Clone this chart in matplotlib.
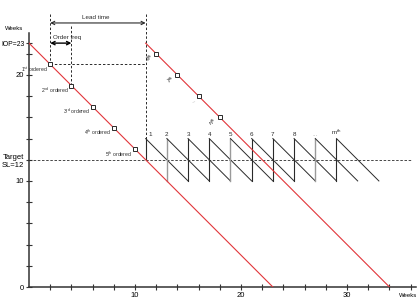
import matplotlib
matplotlib.use("Agg")
import matplotlib.pyplot as plt

# ── data ──────────────────────────────────────────────────────────────────
IOP = 23
TARGET_SL = 12
stock1_x = [0, 23]
stock1_y = [23, 0]
stock2_x = [11, 34]
stock2_y = [23, 0]

order_x = [2, 4, 6, 8, 10]
order_y = [21, 19, 17, 15, 13]
order_labels = [r"1$^{st}$ ordered", r"2$^{nd}$ ordered", r"3$^{rd}$ ordered",
                r"4$^{th}$ ordered", r"5$^{th}$ ordered"]

late_x = [12, 14, 16, 18]
late_y = [22, 20, 18, 16]
late_labels = [r"6$^{th}$", r"7$^{th}$", "...", r"n$^{th}$"]

arrive_x = [11, 13, 15, 17, 19, 21, 23, 25, 27, 29]
arrive_labels = ["1", "2", "3", "4", "5", "6", "7", "8", "...", r"m$^{th}$"]
arrive_grey = [False, True, False, False, True, False, False, False, True, False]
saw_top = 14
saw_low = 10
saw_len = 4

order_start = 2
order_freq_end = 4
lead_end = 11

plt.rcParams["font.family"] = ["Liberation Sans", "DejaVu Sans"]
plt.rcParams["mathtext.fontset"] = "custom"
plt.rcParams["mathtext.rm"] = "Liberation Sans"
plt.rcParams["mathtext.it"] = "Liberation Sans"

RED = "#e2353a"
DARK = "#2a2a2a"
GREY = "#9a9a9a"

fig = plt.figure(figsize=(4.18, 3.03), dpi=100)
ax = fig.add_axes([29 / 418, 16 / 303, 387 / 418, 281 / 303])
ax.set_xlim(0, 36.5)
ax.set_ylim(0, 26.5)

# red stock lines
ax.plot(stock1_x, stock1_y, color=RED, lw=0.8, zorder=3)
ax.plot(stock2_x, stock2_y, color=RED, lw=0.8, zorder=3)

# target line
ax.plot([0, 36], [TARGET_SL, TARGET_SL], color=DARK, lw=0.6, ls=(0, (3, 2)), zorder=2)

# sawtooth deliveries
for i, (x, lab, grey) in enumerate(zip(arrive_x, arrive_labels, arrive_grey)):
    bottom = TARGET_SL if i == 0 else saw_low
    ax.plot([x, x], [bottom, saw_top], color=GREY if grey else DARK,
            lw=1.0 if grey else 0.8, zorder=2)
    ax.plot([x, x + saw_len], [saw_top, saw_top - saw_len], color=DARK, lw=0.7, zorder=2)
    dx = 0.25 if i == 0 else 0.0
    ax.text(x + dx, saw_top + 0.15, lab, fontsize=4.5, ha="center" if i else "left",
            va="bottom", color=GREY if lab == "..." else DARK)

# order markers
ax.plot(order_x, order_y, ls="none", marker="s", ms=2.4, mfc="white",
        mec=DARK, mew=0.7, zorder=4)
for x, y, lab in zip(order_x, order_y, order_labels):
    ax.text(x - 0.25, y - 0.45, lab, fontsize=3.7, ha="right", va="center", color=DARK)

ax.plot(late_x, late_y, ls="none", marker="s", ms=2.4, mfc="white",
        mec=DARK, mew=0.7, zorder=4)
for x, y, lab in zip(late_x, late_y, late_labels):
    ax.text(x - 0.15, y - 0.45, lab, fontsize=3.8, ha="right", va="center",
            rotation=25, color=GREY if lab == "..." else "black")

# dashed guides
dash = dict(color=DARK, lw=0.7, ls=(0, (2.5, 2)), zorder=2)
ax.plot([order_start, order_start], [25.75, order_y[0]], **dash)
ax.plot([order_freq_end, order_freq_end], [24.6, order_y[1]], **dash)
ax.plot([lead_end, lead_end], [25.75, saw_top], **dash)
ax.plot([order_start, lead_end], [order_y[0], order_y[0]], **dash)

# arrows
ax.annotate("", xy=(order_start, 24.9), xytext=(lead_end, 24.9),
            arrowprops=dict(arrowstyle="<->", lw=0.8, color=DARK,
                            shrinkA=0, shrinkB=0, mutation_scale=6))
ax.text((order_start + lead_end) / 2 - 0.2, 25.2, "Lead time", fontsize=4.5,
        ha="center", va="bottom", color=DARK)
ax.annotate("", xy=(order_start, IOP), xytext=(order_freq_end, IOP),
            arrowprops=dict(arrowstyle="<->", lw=1.0, color="black",
                            shrinkA=0, shrinkB=0, mutation_scale=6))
ax.text(order_start + 0.3, 23.55, "Order freq", fontsize=4.5, ha="left",
        va="center", color=DARK)

# axes styling
for s in ["top", "right"]:
    ax.spines[s].set_visible(False)
ax.spines["left"].set_bounds(0, 24)
ax.spines["bottom"].set_bounds(0, 36.5)
for s in ["left", "bottom"]:
    ax.spines[s].set_linewidth(1.1)
    ax.spines[s].set_color("#333333")

xt = list(range(2, 37, 2))
ax.set_xticks(xt)
ax.set_xticklabels([str(v) if v % 10 == 0 else "" for v in xt], fontsize=5.5)
yt = list(range(0, 23, 2)) + [IOP]
ylab = []
for v in yt:
    if v == IOP:
        ylab.append(f"IOP={IOP}")
    elif v == TARGET_SL:
        ylab.append(f"Target\nSL={TARGET_SL}")
    elif v % 10 == 0:
        ylab.append(str(v))
    else:
        ylab.append("")
ax.set_yticks(yt)
ax.set_yticklabels(ylab, fontsize=5.5)
for t in ax.get_yticklabels():
    if t.get_text().startswith("Target"):
        t.set_multialignment("center")
    if t.get_text().startswith("IOP"):
        t.set_fontsize(4.9)
ax.tick_params(direction="inout", length=4, width=0.8, color="#333333", pad=1.5)

ax.text(35.8, -0.8, "Weeks", fontsize=4.3, ha="center", va="center", clip_on=False)
fig.text(14 / 418, 1 - 28 / 303, "Weeks", fontsize=4.3, ha="center", va="center")

fig.savefig("out.png", dpi=100)
